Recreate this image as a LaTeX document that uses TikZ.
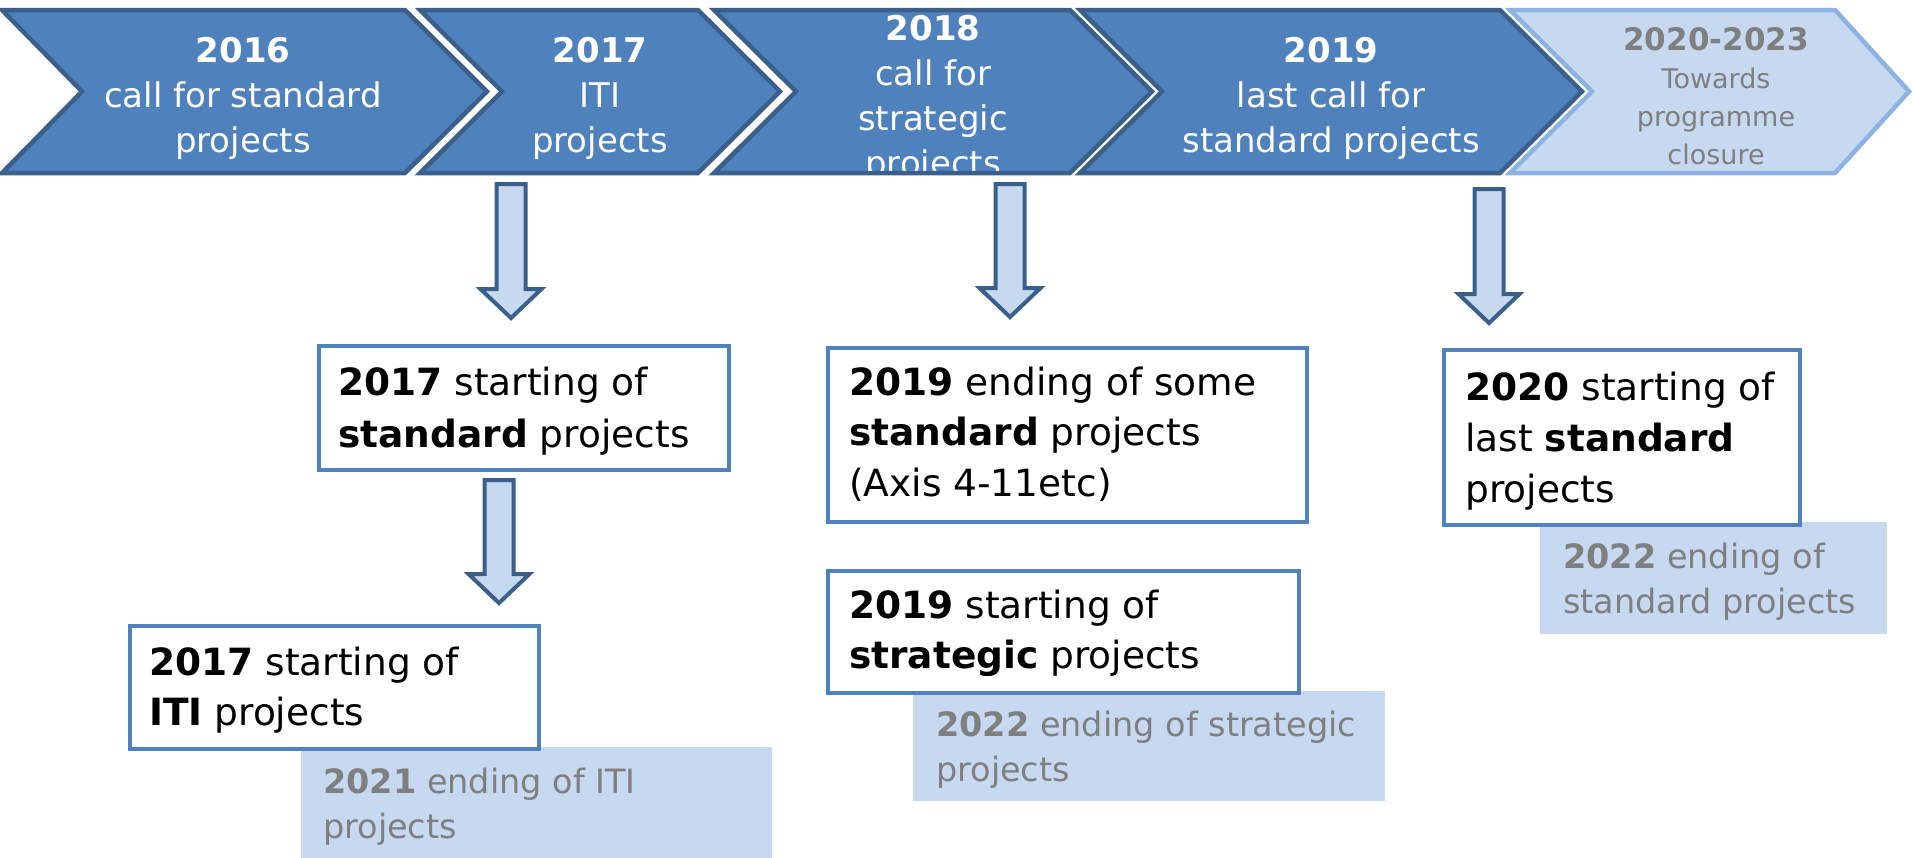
\documentclass[tikz,border=0pt]{standalone}
\usepackage{fontspec}
\setmainfont{DejaVu Sans}
\usetikzlibrary{calc}
\definecolor{chevfill}{HTML}{4F81BD}
\definecolor{chevline}{HTML}{3A5F8B}
\definecolor{paleblue}{HTML}{C6D9F1}
\definecolor{paleline}{HTML}{8DB3E2}
\definecolor{boxline}{HTML}{4F81BD}
\definecolor{greytext}{HTML}{7F7F7F}
\newcommand\setfs[2]{\fontsize{#1}{#2}\selectfont}
\newcommand\blockarrow[2]{%
  \draw[blockarr] let \p1=(#1), \p2=(#2) in
    (\x1-14.5pt,\y1) -- (\x1+14.5pt,\y1) -- (\x1+14.5pt,\y2+29pt) --
    (\x1+30.5pt,\y2+29pt) -- (\x1,\y2) -- (\x1-30.5pt,\y2+29pt) --
    (\x1-14.5pt,\y2+29pt) -- cycle;}
\begin{document}
\begin{tikzpicture}[x=1pt,y=-1pt,
  chevdark/.style={fill=chevfill},
  chevdarkline/.style={draw=chevline,line width=4.5pt,line join=miter},
  chevpale/.style={fill=paleblue},
  chevpaleline/.style={draw=paleline,line width=4.5pt,line join=miter},
  chevtxt/.style={inner sep=0pt,anchor=base,text=white},
  blockarr/.style={fill=paleblue,draw=chevline,line width=4pt,line join=miter},
  wbox/.style={draw=boxline,fill=white,line width=3.5pt,anchor=north west,inner sep=0pt},
  pbox/.style={fill=paleblue,anchor=north west,inner sep=0pt},
  btxt/.style={inner sep=0pt,anchor=base west,text=black},
  gtxt/.style={inner sep=0pt,anchor=base west,text=greytext}]
\useasboundingbox (0,0) rectangle (1913,857);

% ---------- chevrons ----------
% 1
\fill[chevdark] (2,10) -- (405,10) -- (487,91.5) -- (405,173) -- (2,173) -- (82,91.5) -- cycle;
\node[chevtxt] (c1) at (243,62) {\parbox[t]{320pt}{\centering\setfs{34}{45}\textbf{2016}\\call for standard\\projects}};
\draw[chevdarkline] (2,10) -- (405,10) -- (487,91.5) -- (405,173) -- (2,173) -- (82,91.5) -- cycle;
% 2
\fill[chevdark] (420,10) -- (698,10) -- (780,91.5) -- (698,173) -- (420,173) -- (502,91.5) -- cycle;
\node[chevtxt] (c2) at (600,62) {\parbox[t]{300pt}{\centering\setfs{34}{45}\textbf{2017}\\ITI\\projects}};
\draw[chevdarkline] (420,10) -- (698,10) -- (780,91.5) -- (698,173) -- (420,173) -- (502,91.5) -- cycle;
% 3
\fill[chevdark] (714,10) -- (1070,10) -- (1152,91.5) -- (1070,173) -- (714,173) -- (796,91.5) -- cycle;
\begin{scope}
\clip (714,10) -- (1070,10) -- (1152,91.5) -- (1070,173) -- (714,173) -- (796,91.5) -- cycle;
\node[chevtxt] (c3) at (933,40) {\parbox[t]{300pt}{\centering\setfs{34}{45}\textbf{2018}\\call for\\strategic\\projects}};
\end{scope}
\draw[chevdarkline] (714,10) -- (1070,10) -- (1152,91.5) -- (1070,173) -- (714,173) -- (796,91.5) -- cycle;
% 4
\fill[chevdark] (1080,10) -- (1500,10) -- (1582,91.5) -- (1500,173) -- (1080,173) -- (1162,91.5) -- cycle;
\node[chevtxt] (c4) at (1331,62) {\parbox[t]{340pt}{\centering\setfs{34}{45}\textbf{2019}\\last call for\\standard projects}};
\draw[chevdarkline] (1080,10) -- (1500,10) -- (1582,91.5) -- (1500,173) -- (1080,173) -- (1162,91.5) -- cycle;
% 5
\fill[chevpale] (1510,10) -- (1835,10) -- (1909,91.5) -- (1835,173) -- (1510,173) -- (1592,91.5) -- cycle;
\node[chevtxt,text=greytext] (c5) at (1716,50) {\parbox[t]{300pt}{\centering\setfs{27}{38}{\setfs{31}{38}\textbf{2020-2023}}\\Towards\\programme\\closure}};
\draw[chevpaleline] (1510,10) -- (1835,10) -- (1909,91.5) -- (1835,173) -- (1510,173) -- (1592,91.5) -- cycle;

% ---------- boxes ----------
\node[pbox,minimum width=471,minimum height=112] (bBp) at (301,747) {};
\node[gtxt] (bBpt) at (323,793) {\parbox[t]{460pt}{\raggedright\setfs{33.5}{45}\textbf{2021} ending of ITI\\projects}};

\node[pbox,minimum width=472,minimum height=110] (bDp) at (913,691) {};
\node[gtxt] (bDpt) at (936,736) {\parbox[t]{460pt}{\raggedright\setfs{33.5}{45}\textbf{2022} ending of strategic\\projects}};

\node[pbox,minimum width=347,minimum height=112] (bEp) at (1540,522) {};
\node[gtxt] (bEpt) at (1563,568) {\parbox[t]{340pt}{\raggedright\setfs{33.5}{45}\textbf{2022} ending of\\standard projects}};

\node[wbox,minimum width=410,minimum height=124] (bA) at (317,344) {};
\node[btxt] (bAt) at (338,395) {\parbox[t]{400pt}{\raggedright\setfs{37.5}{52}\textbf{2017} starting of\\\textbf{standard} projects}};

\node[wbox,minimum width=409,minimum height=123] (bB) at (128,624) {};
\node[btxt] (bBt) at (149,675) {\parbox[t]{400pt}{\raggedright\setfs{37.5}{50}\textbf{2017} starting of\\\textbf{ITI} projects}};

\node[wbox,minimum width=479,minimum height=174] (bC) at (826,346) {};
\node[btxt] (bCt) at (849,395) {\parbox[t]{470pt}{\raggedright\setfs{37.5}{50.5}\textbf{2019} ending of some\\\textbf{standard} projects\\(Axis 4-11etc)}};

\node[wbox,minimum width=471,minimum height=122] (bD) at (826,569) {};
\node[btxt] (bDt) at (849,618) {\parbox[t]{460pt}{\raggedright\setfs{37.5}{50}\textbf{2019} starting of\\\textbf{strategic} projects}};

\node[wbox,minimum width=356,minimum height=175] (bE) at (1442,348) {};
\node[btxt] (bEt) at (1465,400) {\parbox[t]{350pt}{\raggedright\setfs{37.5}{51}\textbf{2020} starting of\\last \textbf{standard}\\projects}};

% ---------- block arrows ----------
\coordinate (a1s) at (511,184); \coordinate (a1e) at (511,318);
\coordinate (a2s) at (499,480); \coordinate (a2e) at (499,603);
\coordinate (a3s) at (1010,184); \coordinate (a3e) at (1010,317);
\coordinate (a4s) at (1489,189); \coordinate (a4e) at (1489,323);
\blockarrow{a1s}{a1e}
\blockarrow{a2s}{a2e}
\blockarrow{a3s}{a3e}
\blockarrow{a4s}{a4e}
\end{tikzpicture}
\end{document}
